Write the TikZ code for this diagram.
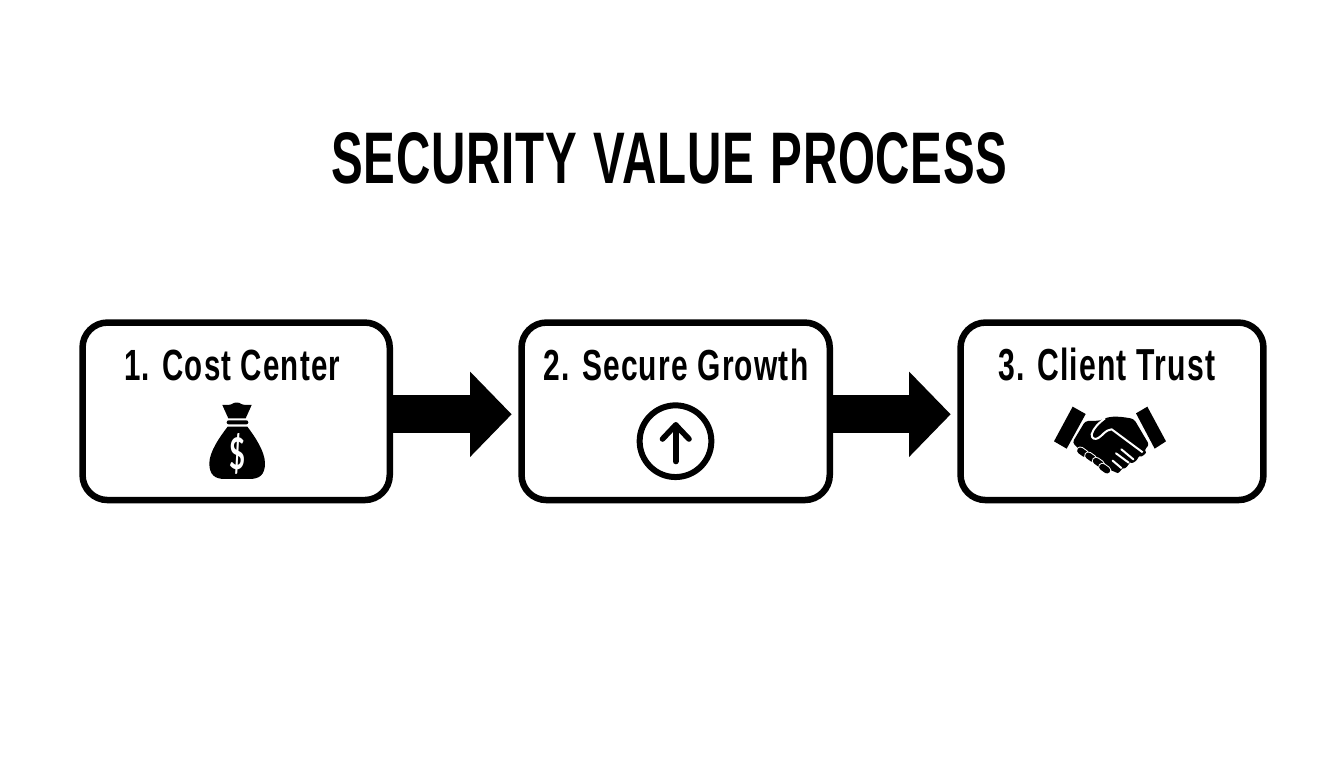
\documentclass[tikz,border=0pt]{standalone}
\usepackage{fontspec}
\usepackage{graphicx}
\setmainfont{Liberation Sans}
\usetikzlibrary{arrows.meta}
\newfontfamily\labelfont[LetterSpace=4]{Liberation Sans}
\newfontfamily\titlefont[LetterSpace=1.5]{Liberation Sans}
\newfontfamily\moneyfont{Lato}
\newcommand{\fit}[3]{\resizebox{#1pt}{#2pt}{#3}}
\tikzset{
  stagebox/.style={draw=black,fill=white,line width=6.5pt,rounded corners=25pt,minimum width=#1,minimum height=177.5pt,inner sep=0pt},
  stagelabel/.style={inner sep=0pt,font=\labelfont\bfseries},
  flow/.style={line width=38.3pt,shorten >=6.6pt,-{Triangle[length=41.7pt,width=83pt]}},
  iconzoom/.style={x=0.3333pt,y=-0.3333pt}
}
\begin{document}
\begin{tikzpicture}[x=1pt,y=-1pt]
\useasboundingbox (0,0) rectangle (1344,768);
\fill[white] (0,0) rectangle (1344,768);
\node[inner sep=0pt,font=\titlefont\bfseries] (title) at (669.5,158) {\fit{676}{51}{SECURITY\hspace{.06em} VALUE\hspace{.06em} PROCESS}};
\node[stagebox=307.2pt] (a) at (236.15,411.3) {};
\node[stagebox=308.2pt] (b) at (675.65,411.3) {};
\node[stagebox=302.9pt] (c) at (1112,411.3) {};
\node[stagelabel] (la) at (232.2,365) {\fit{216}{30.5}{1. Cost Center}};
\node[stagelabel] (lb) at (675.8,365) {\fit{265}{31.5}{2. Secure Growth}};
\node[stagelabel] (lc) at (1106.6,364.5) {\fit{217}{32.5}{3. Client Trust}};
\draw[flow] ([yshift=-3pt]a.east) -- ([yshift=-3pt]b.west);
\draw[flow] ([yshift=-3pt]b.east) -- ([yshift=-3pt]c.west);
% money bag
\begin{scope}[shift={(180,390)},iconzoom]
\fill (127,45) .. controls (140,44) and (150,46) .. (156,42) .. controls (162,36) and (178,36) .. (184,42) .. controls (190,46) and (202,44) .. (215,45) -- (197,85) -- (145,85) -- cycle;
\fill[rounded corners=2pt] (140,91) rectangle (205,103);
\fill (143,110) -- (202,110) .. controls (225,140) and (255,185) .. (255,220) .. controls (255,255) and (238,267) .. (208,267) -- (135,267) .. controls (105,267) and (88,255) .. (88,220) .. controls (88,185) and (120,140) .. (143,110) -- cycle;
\node[inner sep=0pt,text=white,font=\moneyfont\bfseries] (dollar) at (172,192) {\fit{16}{36}{\$}};
\end{scope}
% up arrow in a circle
\node[draw=black,line width=6pt,circle,minimum size=71.7pt,inner sep=0pt,fill=white] (up) at (675.5,441.2) {};
\coordinate (uptip) at (675.7,425);
\coordinate (upfoot) at (675.7,461.5);
\draw[line width=5.6pt,line cap=round] (upfoot) -- (uptip);
\draw[line width=5.6pt,line cap=round,line join=round] (662.5,439) -- (uptip) -- (689,439);
% handshake
\begin{scope}[shift={(1050,400)},iconzoom]
\fill (68,20) -- (107,42) -- (50,146) -- (12,124) -- cycle;
\fill (292,20) -- (258,40) -- (314,146) -- (348,124) -- cycle;
\fill[rounded corners=3pt] (106,63) -- (150,62) .. controls (175,50) and (195,46) .. (252,57) -- (298,135) -- (282,150) .. controls (290,160) and (275,170) .. (266,165) .. controls (262,182) and (248,190) .. (238,184) .. controls (235,198) and (225,205) .. (215,203) .. controls (212,212) and (205,220) .. (195,216) -- (170,205) -- (90,150) -- (67,128) -- cycle;
\draw[white,line width=2pt,line join=round] (165,55) .. controls (145,70) and (130,85) .. (125,103) .. controls (124,116) and (135,120) .. (145,114) .. controls (160,105) and (165,90) .. (185,88) -- (278,157);
\draw[white,line width=2pt,line cap=round] (214,148) -- (250,178);
\draw[white,line width=2pt,line cap=round] (198,160) -- (236,188);
\draw[white,line width=2pt,line cap=round] (188,182) -- (214,204);
\foreach \px/\py in {98/157,122/172,145/188,164/206}{
  \draw[white,line width=8.4pt,line cap=round] (\px-7,\py-5) -- (\px+7,\py+5);
  \draw[black,line width=6.4pt,line cap=round] (\px-7,\py-5) -- (\px+7,\py+5);
}
\end{scope}
\end{tikzpicture}
\end{document}
